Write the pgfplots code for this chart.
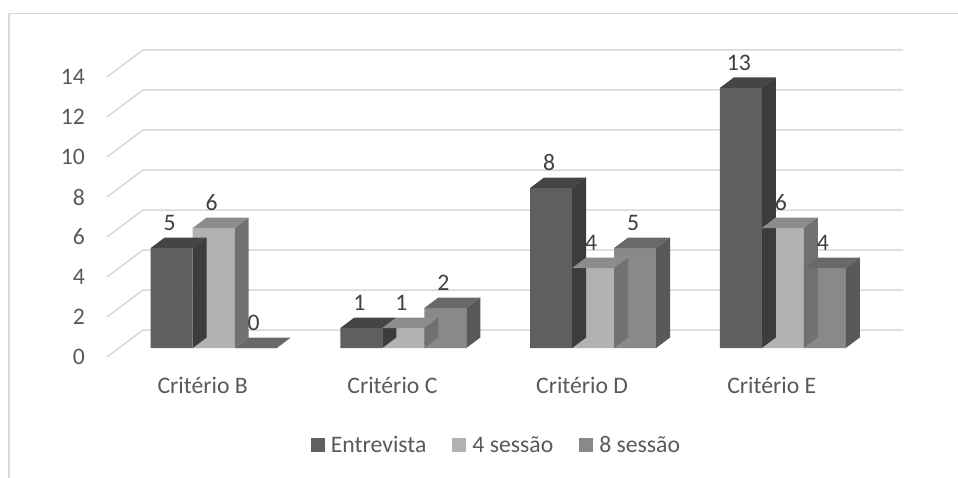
\documentclass[border=0pt]{standalone}
\usepackage{fontspec}
\setmainfont{Carlito}
\usepackage{pgfplots}
\usepackage{pgfplotstable}
\pgfplotsset{compat=1.18}

\definecolor{gridc}{HTML}{D9D9D9}
\definecolor{txt}{HTML}{595959}
\definecolor{lbl}{HTML}{404040}
\definecolor{entF}{HTML}{5F5F5F}
\definecolor{entT}{HTML}{454545}
\definecolor{entS}{HTML}{3C3C3C}
\definecolor{sqF}{HTML}{B2B2B2}
\definecolor{sqT}{HTML}{8C8C8C}
\definecolor{sqS}{HTML}{717171}
\definecolor{soF}{HTML}{898989}
\definecolor{soT}{HTML}{696969}
\definecolor{soS}{HTML}{595959}

% top and right-hand faces of a 3D bar, placed at the bar's front top centre
% #1 mark name, #2 bar offset, #3 top colour, #4 side colour
\newcommand\declarebarcap[4]{%
  \pgfdeclareplotmark{#1}{%
    \pgfmathsetlengthmacro\capdepth{\barval*20pt}%
    \pgfsetfillcolor{#3}%
    \pgfpathmoveto{\pgfpoint{#2-21pt}{0pt}}%
    \pgfpathlineto{\pgfpoint{#2+21pt}{0pt}}%
    \pgfpathlineto{\pgfpoint{#2+35pt}{10.5pt}}%
    \pgfpathlineto{\pgfpoint{#2-7pt}{10.5pt}}%
    \pgfpathclose
    \pgfusepath{fill}%
    \pgfsetfillcolor{#4}%
    \pgfpathmoveto{\pgfpoint{#2+21pt}{0pt}}%
    \pgfpathlineto{\pgfpoint{#2+35pt}{10.5pt}}%
    \pgfpathlineto{\pgfpoint{#2+35pt}{10.5pt-\capdepth}}%
    \pgfpathlineto{\pgfpoint{#2+21pt}{-\capdepth}}%
    \pgfpathclose
    \pgfusepath{fill}%
  }}
\declarebarcap{capE}{-42pt}{entT}{entS}
\declarebarcap{capQ}{0pt}{sqT}{sqS}
\declarebarcap{capO}{42pt}{soT}{soS}

% 0 = Critério B, 1 = Critério C, 2 = Critério D, 3 = Critério E
\pgfplotstableread{
x y
0 5
1 1
2 8
3 13
}\entrevista
\pgfplotstableread{
x y
0 6
1 1
2 4
3 6
}\quatro
\pgfplotstableread{
x y
0 0
1 2
2 5
3 4
}\oito

\pgfplotsset{
  front/.style={ybar, bar width=42pt, bar shift=#1, draw=none,
    legend image code/.code={\fill (0pt,-7pt) rectangle (14pt,7pt);},
    nodes near coords,
    nodes near coords style={text=lbl, anchor=south, inner sep=0pt, yshift=17.5pt, xshift=#1-2pt}},
  cap/.style={forget plot, scatter, only marks, mark=#1,
    visualization depends on={\thisrow{y} \as \barval},
    scatter/@pre marker code/.code={}, scatter/@post marker code/.code={}},
}

\begin{document}
\begin{tikzpicture}[font=\fontsize{23.7pt}{28pt}\selectfont]
\useasboundingbox (-107pt,-120pt) rectangle (851pt,357pt);
\draw[gridc, line width=1.5pt] (-98pt,-125pt) -- (-98pt,343.3pt) -- (856pt,343.3pt);
\begin{axis}[
  at={(0,0)}, anchor=south west,
  x=189.7pt, y=20pt,
  xmin=-0.5625, xmax=3.634, ymin=-0.45, ymax=14.9,
  enlargelimits=false, clip=false,
  axis line style={draw=none},
  major tick length=0pt, tick style={draw=none},
  xtick={0,1,2,3},
  xticklabels={Critério B,Critério C,Critério D,Critério E},
  ytick={0,2,...,14},
  xticklabel style={anchor=base, inner sep=0pt, xshift=-11pt, yshift=-36.3pt, text=txt},
  yticklabel style={anchor=east, inner sep=0pt, xshift=-22pt, yshift=-9pt, text=txt},
  /pgf/number format/assume math mode=true,
  legend columns=3,
  legend style={draw=none, fill=none, at={(0.488,-0.2866)}, anchor=center,
    nodes={inner sep=0pt, text=txt},
    /tikz/every odd column/.append style={column sep=6pt},
    /tikz/every even column/.append style={column sep=26pt}},
]
% floor edge and back wall lines
\pgfplotsinvokeforeach{0,2,...,14}{
  \draw[gridc, line width=1.5pt] (axis cs:-0.5625,#1-0.45) -- ++(36pt,27pt) -- (axis cs:3.634,#1+0.9);
}
\addplot[front=-42pt, fill=entF] table {\entrevista};
\addlegendentry{Entrevista}
\addplot[cap=capE] table {\entrevista};
\addplot[front=0pt, fill=sqF] table {\quatro};
\addlegendentry{4 sessão}
\addplot[cap=capQ] table {\quatro};
\addplot[front=42pt, fill=soF] table {\oito};
\addlegendentry{8 sessão}
\addplot[cap=capO] table {\oito};
\end{axis}
\end{tikzpicture}
\end{document}
